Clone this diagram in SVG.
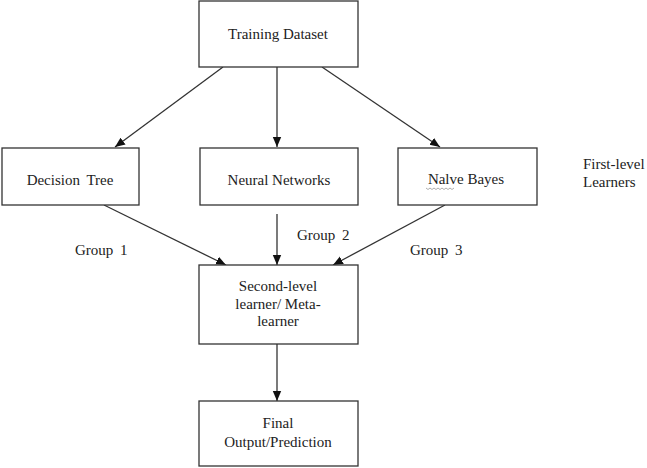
<svg xmlns="http://www.w3.org/2000/svg" width="647" height="468" viewBox="0 0 647 468">
<style>
.box{fill:#fff;stroke:#333;stroke-width:1.3}
.t{font-family:"Liberation Serif","Times New Roman",serif;font-size:15px;fill:#222;text-anchor:middle}
.l{font-family:"Liberation Serif","Times New Roman",serif;font-size:15px;fill:#222}
.c{stroke:#333;stroke-width:1.3;fill:none;marker-end:url(#ah)}
</style>
<defs>
<marker id="ah" markerUnits="userSpaceOnUse" markerWidth="10" markerHeight="10" viewBox="0 0 10 10" refX="10" refY="5" orient="auto">
<path d="M0,0.8 L10,5 L0,9.2 Z" fill="#111"/>
</marker>
</defs>
<rect width="647" height="468" fill="#fff"/>
<g id="connectors">
<line class="c" x1="223" y1="67" x2="115" y2="147"/>
<line class="c" x1="277" y1="67" x2="277" y2="147"/>
<line class="c" x1="322" y1="67" x2="440" y2="147"/>
<line class="c" x1="104" y1="205" x2="226" y2="265"/>
<line class="c" x1="277" y1="214" x2="277" y2="265"/>
<line class="c" x1="445" y1="205" x2="333" y2="265"/>
<line class="c" x1="277" y1="344" x2="277" y2="401"/>
</g>
<g id="training">
<rect class="box" x="199" y="1" width="159" height="66"/>
<text class="t" x="278" y="39">Training Dataset</text>
</g>
<g id="decision-tree">
<rect class="box" x="2" y="148" width="137" height="57"/>
<text class="t" x="70" y="185" word-spacing="3">Decision Tree</text>
</g>
<g id="neural-networks">
<rect class="box" x="200" y="148" width="158" height="57"/>
<text class="t" x="279" y="185">Neural Networks</text>
</g>
<g id="naive-bayes">
<rect class="box" x="398" y="148" width="139" height="57"/>
<text class="t" x="466" y="184">Nalve Bayes</text>
<path d="M426,188 l2,1.5 l2,-1.5 l2,1.5 l2,-1.5 l2,1.5 l2,-1.5 l2,1.5 l2,-1.5 l2,1.5 l2,-1.5 l2,1.5 l2,-1.5 l2,1.5 l2,-1.5" fill="none" stroke="#999" stroke-width="0.8"/>
</g>
<g id="first-level-label">
<text class="l" x="583" y="169">First-level</text>
<text class="l" x="583" y="187">Learners</text>
</g>
<g id="group-labels">
<text class="l" x="75" y="255" word-spacing="3">Group 1</text>
<text class="l" x="297" y="240" word-spacing="3">Group 2</text>
<text class="l" x="410" y="255" word-spacing="3">Group 3</text>
</g>
<g id="meta-learner">
<rect class="box" x="199" y="265" width="159" height="79"/>
<text class="t" x="278" y="291">Second-level</text>
<text class="t" x="278" y="309">learner/ Meta-</text>
<text class="t" x="278" y="326">learner</text>
</g>
<g id="final-output">
<rect class="box" x="199" y="401" width="159" height="65"/>
<text class="t" x="278" y="428">Final</text>
<text class="t" x="278" y="447">Output/Prediction</text>
</g>
</svg>
